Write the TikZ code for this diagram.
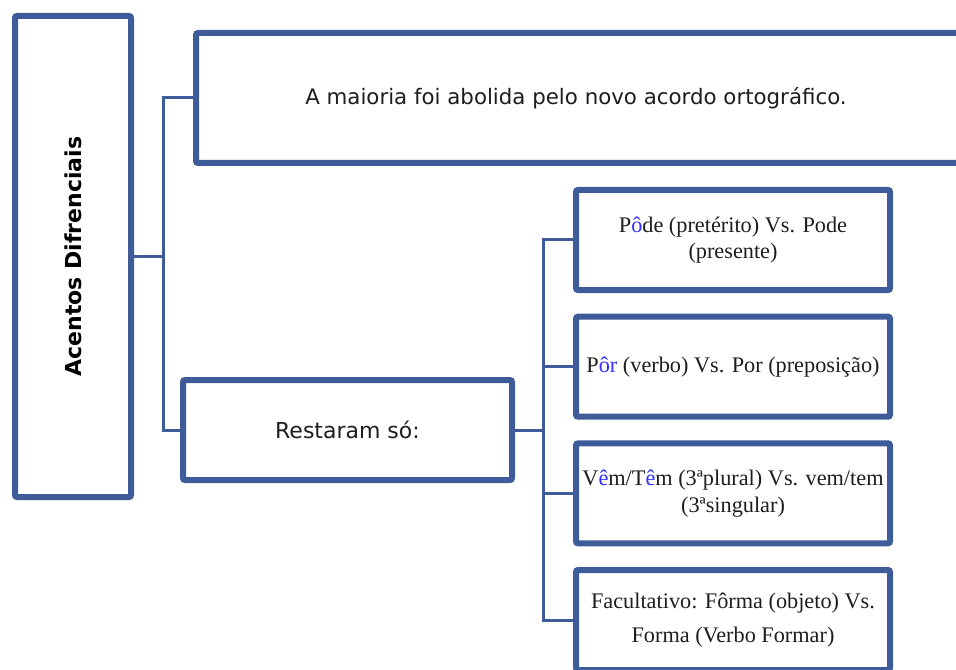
\documentclass[tikz,border=0pt]{standalone}
\usepackage{fontspec}
\setmainfont{Liberation Serif}
\setsansfont{DejaVu Sans}
\usetikzlibrary{positioning, shadows}
\definecolor{blueA}{HTML}{3F5C9A}
\definecolor{blueB}{HTML}{3030FF}
\definecolor{inkA}{HTML}{1E1E1E}
\tikzset{
  frame/.style={
    draw=blueA, fill=white, line width=4.5pt, rounded corners=1.5pt,
    align=center, inner sep=0pt, text=inkA,
    drop shadow={shadow xshift=1pt, shadow yshift=-1.5pt, opacity=0.18}
  },
  head/.style={frame, minimum width=87pt, minimum height=360.75pt,
    font=\sffamily\bfseries\fontsize{16.5}{20}\selectfont, text=black},
  note/.style={frame, minimum width=#1, minimum height=75pt,
    font=\sffamily\fontsize{16}{20}\selectfont},
  item/.style={frame, minimum width=235.5pt, minimum height=75pt,
    font=\fontsize{16.7}{20}\selectfont},
  link/.style={draw=blueA, line width=2.25pt}
}
\newcommand{\hl}[1]{\textcolor{blueB}{#1}}

\begin{document}
\begin{tikzpicture}[x=0.75pt, y=-0.75pt, node distance=15.5pt]
  \useasboundingbox (0,0) rectangle (956,670);
  \node[head] (title) at (73,256.5) {\rotatebox{90}{Acentos Difrenciais}};
  \node[note=576.75pt, minimum height=97.5pt] (abolida) at (580.5,98) {
    A maioria foi abolida pelo novo acordo ortográfico.
  };
  \node[note=246.75pt, font=\sffamily\fontsize{16.5}{20}\selectfont] (restaram) at (347.5,430) {Restaram só:};
  \node[item] (pode) at (733,240) {P\hl{ô}de (pretérito) Vs. Pode\\(presente)};
  \node[item, below=of pode] (por) {P\hl{ôr} (verbo) Vs. Por (preposição)};
  \node[item, below=of por] (tem) {V\hl{ê}m/T\hl{ê}m (3ªplural) Vs. vem/tem\\(3ªsingular)};
  \node[item, below=of tem, font=\fontsize{16.7}{25}\selectfont] (forma) {
    Facultativo: Fôrma (objeto) Vs.\\Forma (Verbo Formar)
  };
  \coordinate (trunkL) at (163,256.5);
  \coordinate (trunkR) at (543,430);
  \draw[link] (title.east) -- (trunkL);
  \draw[link] (abolida.west) -| (trunkL) |- (restaram.west);
  \draw[link] (restaram.east) -- (trunkR);
  \foreach \b in {pode,por,tem,forma}
    \draw[link] (trunkR) |- (\b.west);
\end{tikzpicture}
\end{document}
